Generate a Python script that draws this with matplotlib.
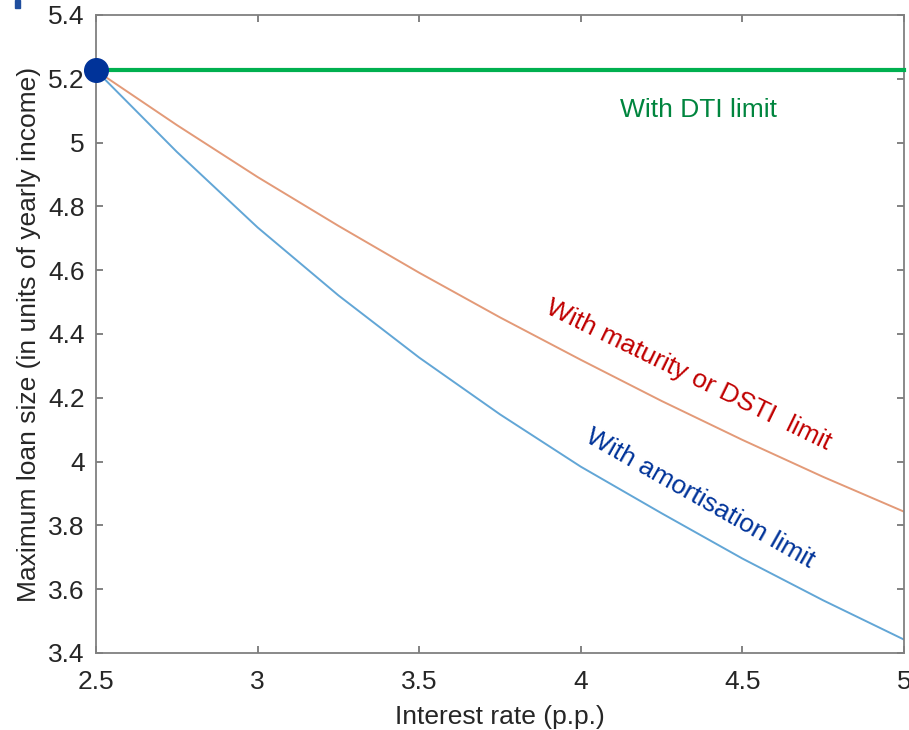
import matplotlib
matplotlib.use("Agg")
import matplotlib.pyplot as plt
from matplotlib.patches import Rectangle

plt.rcParams['font.family'] = ['Liberation Sans', 'DejaVu Sans']

# Data
interest_rate = [2.5, 2.75, 3.0, 3.25, 3.5, 3.75, 4.0, 4.25, 4.5, 4.75, 5.0]
dsti_limit = [5.226, 5.055, 4.892, 4.739, 4.592, 4.452, 4.319, 4.190, 4.068, 3.952, 3.843]
amort_limit = [5.226, 4.971, 4.734, 4.521, 4.326, 4.148, 3.984, 3.838, 3.696, 3.565, 3.442]
dti_x = [2.5, 5.0]
dti_limit = [5.226, 5.226]
start_point = (2.5, 5.226)

xticks = [2.5, 3, 3.5, 4, 4.5, 5]
xticklabels = ['2.5', '3', '3.5', '4', '4.5', '5']
yticks = [3.4, 3.6, 3.8, 4.0, 4.2, 4.4, 4.6, 4.8, 5.0, 5.2, 5.4]
yticklabels = ['3.4', '3.6', '3.8', '4', '4.2', '4.4', '4.6', '4.8', '5', '5.2', '5.4']

fig = plt.figure(figsize=(9.09, 7.3), dpi=100)
ax = fig.add_axes([0.1056, 0.1055, 0.8889, 0.874])

ax.plot(interest_rate, dsti_limit, color='#E39A78', lw=1.4, zorder=2)
ax.plot(interest_rate, amort_limit, color='#62A6D6', lw=1.4, zorder=2)
ax.plot(dti_x, dti_limit, color='#00B050', lw=3.0, zorder=3, clip_on=False)
ax.plot([start_point[0]], [start_point[1]], 'o', color='#003399', ms=17,
        zorder=5, clip_on=False)

ax.set_xlim(2.5, 5)
ax.set_ylim(3.4, 5.4)
ax.set_xticks(xticks)
ax.set_xticklabels(xticklabels)
ax.set_yticks(yticks)
ax.set_yticklabels(yticklabels)

for s in ax.spines.values():
    s.set_color('#808080')
    s.set_linewidth(1.3)
ax.tick_params(direction='in', length=5, width=1.1, color='#606060',
               top=True, right=True, labelsize=19, labelcolor='#262626')
ax.tick_params(axis='x', pad=12)
ax.tick_params(axis='y', pad=8)

ax.set_xlabel('Interest rate (p.p.)', fontsize=19, color='#262626', labelpad=8)
ax.set_ylabel('Maximum loan size (in units of yearly income)', fontsize=19,
              color='#262626', labelpad=5)

ax.text(4.363, 5.103, 'With DTI limit', color='#00853E', fontsize=19,
        ha='center', va='center')
ax.text(4.332, 4.270, 'With maturity or DSTI  limit', color='#C00000',
        fontsize=19, ha='center', va='center', rotation=-26,
        rotation_mode='anchor')
ax.text(4.369, 3.885, 'With amortisation limit', color='#003399',
        fontsize=19, ha='center', va='center', rotation=-29.5,
        rotation_mode='anchor')

# small cropped mark at the top-left corner of the reference
fig.patches.append(Rectangle((15 / 909, 1 - 8 / 730), 5 / 909, 8 / 730,
                             transform=fig.transFigure, color='#1F4E9E'))

fig.savefig('out.png', dpi=100)
